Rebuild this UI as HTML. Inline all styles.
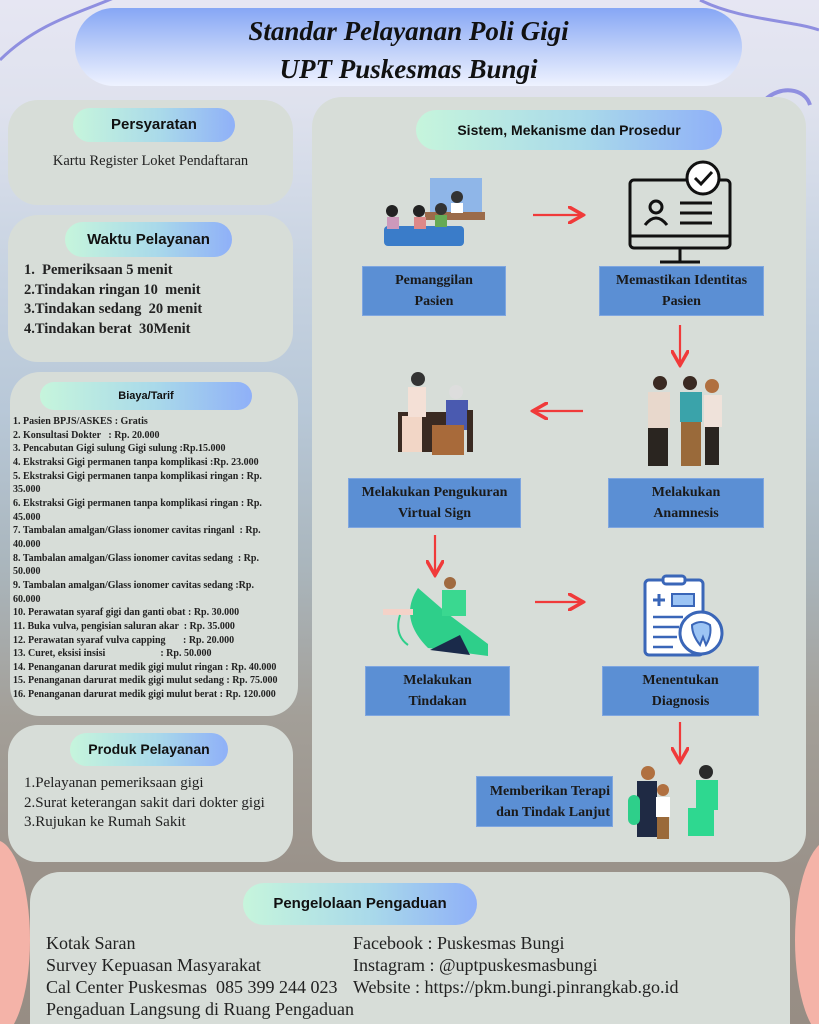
<!DOCTYPE html>
<html><head><meta charset="utf-8">
<style>
*{margin:0;padding:0;box-sizing:border-box}
html,body{width:819px;height:1024px;overflow:hidden}
body{position:relative;font-family:"Liberation Serif",serif;
background:linear-gradient(180deg,#e6e6f3 0%,#dfe2ee 10%,#c9d4e2 25%,#b8c8d8 40%,#aab6bd 55%,#a39f98 70%,#9a928a 85%,#978d84 100%);}
.bgpink{position:absolute;border-radius:50%;background:#f4b3a8}
.panel{position:absolute;background:#d7ddd8;border-radius:30px}
.pill{position:absolute;border-radius:20px;background:linear-gradient(90deg,#c6f5dc,#a9d9ea 55%,#8fb0f8);
font-family:"Liberation Sans",sans-serif;font-weight:bold;text-align:center;color:#111}
.t{position:absolute;color:#222;white-space:nowrap}
.box{position:absolute;background:#5b8fd4;border:1px solid #7fa6e0;color:#1a1a1a;text-align:center;font-size:14px;line-height:21px;font-weight:bold;display:flex;align-items:center;justify-content:center}
.tar{font-size:10px;line-height:13.65px;font-weight:bold;font-family:"Liberation Serif",serif;color:#222}
svg{position:absolute}
</style></head><body>
<div class="bgpink" style="left:-40px;top:840px;width:70px;height:200px"></div>
<div class="bgpink" style="left:795px;top:840px;width:70px;height:200px"></div>
<svg style="left:0;top:0" width="819" height="120"><path d="M0 60 C40 20 90 10 120 -5" stroke="#8f8fe0" stroke-width="3" fill="none"/><path d="M700 0 C740 20 790 20 819 30" stroke="#8f8fe0" stroke-width="3" fill="none"/><path d="M765 100 C780 85 805 88 810 105" stroke="#8f8fe0" stroke-width="4" fill="none"/></svg>

<div style="position:absolute;left:75px;top:8px;width:667px;height:78px;border-radius:40px;background:linear-gradient(180deg,#86a6f5,#c6d5fa 60%,#eef2ff)"></div>
<div class="t" style="left:75px;top:12px;width:667px;text-align:center;font-size:27px;line-height:38px;font-style:italic;font-weight:bold;color:#111">Standar Pelayanan Poli Gigi<br>UPT Puskesmas Bungi</div>

<div class="panel" style="left:8px;top:100px;width:285px;height:105px"></div>
<div class="pill" style="left:73px;top:108px;width:162px;height:34px;font-size:15px;line-height:34px">Persyaratan</div>
<div class="t" style="left:8px;top:153px;width:285px;text-align:center;font-size:14.5px">Kartu Register Loket Pendaftaran</div>

<div class="panel" style="left:8px;top:215px;width:285px;height:147px"></div>
<div class="pill" style="left:65px;top:222px;width:167px;height:35px;font-size:15px;line-height:35px">Waktu Pelayanan</div>
<div class="t" style="left:24px;top:261px;font-size:14.5px;line-height:19.7px;font-weight:bold">1.&nbsp; Pemeriksaan 5 menit<br>2.Tindakan ringan 10&nbsp; menit<br>3.Tindakan sedang&nbsp; 20 menit<br>4.Tindakan berat&nbsp; 30Menit</div>

<div class="panel" style="left:10px;top:372px;width:288px;height:344px"></div>
<div class="pill" style="left:40px;top:382px;width:212px;height:28px;font-size:11px;line-height:28px">Biaya/Tarif</div>
<div class="t tar" style="left:13px;top:415px">1. Pasien BPJS/ASKES : Gratis<br>2. Konsultasi Dokter &nbsp;&nbsp;: Rp. 20.000<br>3. Pencabutan Gigi sulung Gigi sulung :Rp.15.000<br>4. Ekstraksi Gigi permanen tanpa komplikasi :Rp. 23.000<br>5. Ekstraksi Gigi permanen tanpa komplikasi ringan : Rp.<br>35.000<br>6. Ekstraksi Gigi permanen tanpa komplikasi ringan : Rp.<br>45.000<br>7. Tambalan amalgan/Glass ionomer cavitas ringanl &nbsp;: Rp.<br>40.000<br>8. Tambalan amalgan/Glass ionomer cavitas sedang &nbsp;: Rp.<br>50.000<br>9. Tambalan amalgan/Glass ionomer cavitas sedang :Rp.<br>60.000<br>10. Perawatan syaraf gigi dan ganti obat : Rp. 30.000<br>11. Buka vulva, pengisian saluran akar &nbsp;: Rp. 35.000<br>12. Perawatan syaraf vulva capping &nbsp;&nbsp;&nbsp;&nbsp;&nbsp;&nbsp;: Rp. 20.000<br>13. Curet, eksisi insisi &nbsp;&nbsp;&nbsp;&nbsp;&nbsp;&nbsp;&nbsp;&nbsp;&nbsp;&nbsp;&nbsp;&nbsp;&nbsp;&nbsp;&nbsp;&nbsp;&nbsp;&nbsp;&nbsp;&nbsp;&nbsp;: Rp. 50.000<br>14. Penanganan darurat medik gigi mulut ringan : Rp. 40.000<br>15. Penanganan darurat medik gigi mulut sedang : Rp. 75.000<br>16. Penanganan darurat medik gigi mulut berat : Rp. 120.000</div>

<div class="panel" style="left:8px;top:725px;width:285px;height:137px"></div>
<div class="pill" style="left:70px;top:733px;width:158px;height:33px;font-size:14px;line-height:33px">Produk Pelayanan</div>
<div class="t" style="left:24px;top:774px;font-size:15px;line-height:19.7px">1.Pelayanan pemeriksaan gigi<br>2.Surat keterangan sakit dari dokter gigi<br>3.Rujukan ke Rumah Sakit</div>

<div class="panel" style="left:312px;top:97px;width:494px;height:765px"></div>
<div class="pill" style="left:416px;top:110px;width:306px;height:40px;font-size:14px;line-height:40px">Sistem, Mekanisme dan Prosedur</div>

<div class="box" style="left:362px;top:266px;width:144px;height:50px">Pemanggilan<br>Pasien</div>
<div class="box" style="left:599px;top:266px;width:165px;height:50px">Memastikan Identitas<br>Pasien</div>
<div class="box" style="left:348px;top:478px;width:173px;height:50px">Melakukan Pengukuran<br>Virtual Sign</div>
<div class="box" style="left:608px;top:478px;width:156px;height:50px">Melakukan<br>Anamnesis</div>
<div class="box" style="left:365px;top:666px;width:145px;height:50px">Melakukan<br>Tindakan</div>
<div class="box" style="left:602px;top:666px;width:157px;height:50px">Menentukan<br>Diagnosis</div>
<div class="box" style="left:476px;top:776px;width:137px;height:51px;justify-content:flex-end;text-align:right;padding-right:2px">Memberikan Terapi<br>dan Tindak Lanjut</div>

<svg style="left:0;top:0" width="819" height="1024">
<defs><marker id="a" markerWidth="8" markerHeight="8" refX="6" refY="4" orient="auto"><path d="M0 0 L7 4 L0 8" fill="none" stroke="#f03a3a" stroke-width="1.6"/></marker></defs>
<g stroke="#f03a3a" stroke-width="2.2" fill="none" marker-end="url(#a)">
<line x1="533" y1="215" x2="581" y2="215"/>
<line x1="680" y1="325" x2="680" y2="363"/>
<line x1="583" y1="411" x2="535" y2="411"/>
<line x1="435" y1="535" x2="435" y2="573"/>
<line x1="535" y1="602" x2="581" y2="602"/>
<line x1="680" y1="722" x2="680" y2="760"/>
</g>
<rect x="430" y="178" width="52" height="40" fill="#8fb6e8"/><rect x="425" y="212" width="60" height="8" fill="#9b6b4a"/>
<circle cx="457" cy="197" r="6" fill="#333"/><rect x="451" y="203" width="12" height="10" fill="#fff"/>
<rect x="384" y="226" width="80" height="20" rx="4" fill="#3a7cc9"/>
<circle cx="392" cy="211" r="6" fill="#222"/><circle cx="419" cy="211" r="6" fill="#222"/><circle cx="441" cy="209" r="6" fill="#333"/>
<rect x="387" y="217" width="12" height="12" fill="#c9b"/><rect x="414" y="217" width="12" height="12" fill="#d88"/><rect x="435" y="215" width="12" height="12" fill="#6a5"/>
<g stroke="#111" stroke-width="3" fill="none"><rect x="630" y="180" width="100" height="68" rx="4"/><line x1="630" y1="236" x2="730" y2="236"/><line x1="680" y1="248" x2="680" y2="262"/><line x1="660" y1="262" x2="700" y2="262"/><circle cx="656" cy="207" r="6"/><path d="M645 225 q11 -14 22 0"/><line x1="680" y1="203" x2="712" y2="203"/><line x1="680" y1="213" x2="712" y2="213"/><line x1="680" y1="223" x2="712" y2="223"/></g>
<circle cx="703" cy="178" r="16" fill="#fff" stroke="#111" stroke-width="3"/><path d="M695 178 l6 6 l11 -12" stroke="#111" stroke-width="3" fill="none"/>
<rect x="398" y="412" width="60" height="40" fill="#3a2a22"/><rect x="402" y="416" width="20" height="36" fill="#f2d6c6"/>
<circle cx="418" cy="379" r="7" fill="#333"/><rect x="408" y="387" width="18" height="30" fill="#f4e0d6"/>
<circle cx="456" cy="392" r="7" fill="#ddd"/><rect x="446" y="400" width="22" height="30" fill="#4a5ab0"/><rect x="432" y="425" width="32" height="30" fill="#a86a3a"/>
<rect x="467" y="410" width="6" height="42" fill="#3a2a22"/>
<circle cx="660" cy="383" r="7" fill="#3a2a22"/><rect x="648" y="392" width="22" height="36" fill="#e8d8cc"/><rect x="648" y="428" width="20" height="38" fill="#2a2520"/>
<circle cx="690" cy="383" r="7" fill="#3a2a22"/><rect x="680" y="392" width="22" height="30" fill="#3aa3aa"/><rect x="681" y="422" width="20" height="44" fill="#9a6a3a"/>
<circle cx="712" cy="386" r="7" fill="#b07040"/><rect x="704" y="395" width="18" height="32" fill="#efe2da"/><rect x="705" y="427" width="14" height="38" fill="#2a2520"/>
<path d="M418 588 q-20 30 10 60 l60 8 l0 -12 l-40 -30 z" fill="#2ecf8a"/><path d="M430 650 l40 5 l-10 -20 z" fill="#1a2a4a"/>
<circle cx="450" cy="583" r="6" fill="#a06a40"/><rect x="442" y="590" width="24" height="26" fill="#3ad890"/>
<rect x="383" y="609" width="30" height="6" fill="#f4d2c8"/><path d="M400 615 q-6 20 8 30" stroke="#2ecf8a" stroke-width="2" fill="none"/>
<rect x="645" y="580" width="58" height="75" rx="4" fill="#fff" stroke="#3a66b8" stroke-width="3"/><rect x="663" y="576" width="22" height="8" rx="3" fill="#fff" stroke="#3a66b8" stroke-width="3"/>
<path d="M653 600 h12 M659 594 v12" stroke="#3a66b8" stroke-width="3"/><rect x="672" y="594" width="22" height="12" fill="#9cc4f4" stroke="#3a66b8" stroke-width="2"/>
<path d="M653 617 h30 M653 627 h26 M653 637 h24 M653 647 h20" stroke="#3a66b8" stroke-width="2.5"/>
<circle cx="701" cy="633" r="21" fill="#fff" stroke="#3a66b8" stroke-width="3"/><path d="M692 625 q9 -6 18 0 q2 10 -4 20 l-3 -8 l-3 8 q-8 -10 -8 -20z" fill="#9cc4f4" stroke="#3a66b8" stroke-width="2"/>
<circle cx="648" cy="773" r="7" fill="#b07040"/><rect x="637" y="781" width="20" height="56" fill="#1f2a44"/><rect x="628" y="795" width="12" height="30" rx="6" fill="#2ecf8a"/>
<circle cx="663" cy="790" r="6" fill="#b07040"/><rect x="656" y="797" width="14" height="20" fill="#fff"/><rect x="657" y="817" width="12" height="22" fill="#9a6a3a"/>
<circle cx="706" cy="772" r="7" fill="#2a2a2a"/><rect x="696" y="780" width="22" height="30" fill="#2ed890"/><rect x="688" y="808" width="26" height="28" fill="#2ed890"/>
</svg>

<div class="panel" style="left:30px;top:872px;width:760px;height:152px;border-radius:30px 30px 0 0"></div>
<div class="pill" style="left:243px;top:883px;width:234px;height:42px;font-size:15px;line-height:42px;border-radius:22px">Pengelolaan Pengaduan</div>
<div class="t" style="left:46px;top:932px;font-size:18px;line-height:22px">Kotak Saran<br>Survey Kepuasan Masyarakat<br>Cal Center Puskesmas&nbsp; 085 399 244 023<br>Pengaduan Langsung di Ruang Pengaduan</div>
<div class="t" style="left:353px;top:932px;font-size:18px;line-height:22px">Facebook : Puskesmas Bungi<br>Instagram : @uptpuskesmasbungi<br>Website : https://pkm.bungi.pinrangkab.go.id</div>
</body></html>
